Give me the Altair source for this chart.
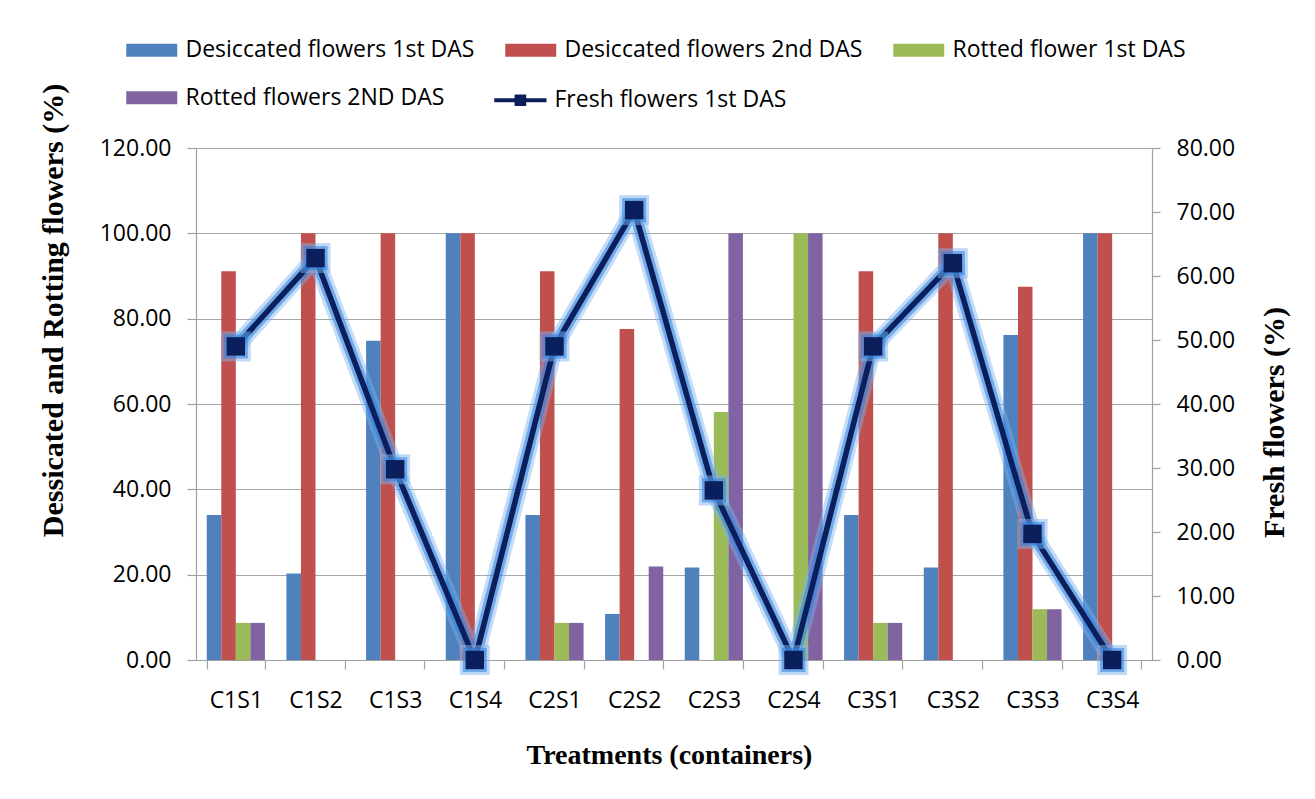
import altair as alt
import pandas as pd

treatments = ["C1S1", "C1S2", "C1S3", "C1S4", "C2S1", "C2S2",
              "C2S3", "C2S4", "C3S1", "C3S2", "C3S3", "C3S4"]

desiccated_1st = [34.0, 20.3, 74.8, 100.0, 34.0, 10.8, 21.7, 0.0, 34.0, 21.7, 76.2, 100.0]
desiccated_2nd = [91.1, 100.0, 100.0, 100.0, 91.1, 77.6, 0.0, 0.0, 91.1, 100.0, 87.5, 100.0]
rotted_1st = [8.7, 0.0, 0.0, 0.0, 8.7, 0.0, 58.1, 100.0, 8.7, 0.0, 11.9, 0.0]
rotted_2nd = [8.7, 0.0, 0.0, 0.0, 8.7, 21.9, 100.0, 100.0, 8.7, 0.0, 11.9, 0.0]
fresh_1st = [49.0, 62.8, 29.8, 0.0, 49.0, 70.3, 26.5, 0.0, 49.0, 62.0, 19.7, 0.0]

series_names = ["Desiccated flowers 1st DAS", "Desiccated flowers 2nd DAS",
                "Rotted flower 1st DAS", "Rotted flowers 2ND DAS"]
series_colors = ["#4F81BD", "#C0504D", "#9BBB59", "#8064A2"]
# order in which the legend grid receives the entries (so rows read D1 D2 R1 / R2)
legend_order = [0, 2, 1, 3]
line_name = "Fresh flowers 1st DAS"
navy = "#0A1F5C"

left_ticks = [0, 20, 40, 60, 80, 100, 120]
right_ticks = [0, 10, 20, 30, 40, 50, 60, 70, 80]

rows = []
for name, vals in zip(series_names, [desiccated_1st, desiccated_2nd, rotted_1st, rotted_2nd]):
    for t, v in zip(treatments, vals):
        rows.append({"treatment": t, "series": name, "value": v})
bars_df = pd.DataFrame(rows)
line_df = pd.DataFrame({"treatment": treatments, "fresh": fresh_1st,
                        "line": [line_name] * len(treatments)})

x_enc = alt.X(
    "treatment:N",
    sort=treatments,
    scale=alt.Scale(domain=treatments, paddingInner=0.27, paddingOuter=0.135),
    axis=alt.Axis(
        title="Treatments (containers)",
        tickBand="extent", tickSize=9, labelPadding=20, labelAngle=0,
        titleX=473, titleY=103, titleBaseline="alphabetic", titleAlign="center",
    ),
)

y_left = alt.Y(
    "value:Q",
    scale=alt.Scale(domain=[0, 120], nice=False),
    axis=alt.Axis(
        title="Dessicated and Rotting flowers (%)",
        values=left_ticks, format=".2f", tickSize=9, labelPadding=16,
        grid=True, titleFontSize=30, titleAngle=270,
        titleX=-134, titleY=162, titleAlign="center", titleBaseline="alphabetic",
    ),
)

y_right = alt.Y(
    "fresh:Q",
    scale=alt.Scale(domain=[0, 80], nice=False),
    axis=alt.Axis(
        title="Fresh flowers (%)", orient="right",
        values=right_ticks, format=".2f", tickSize=8, labelPadding=16,
        grid=False, titleAngle=270, titleFontSize=30,
        titleX=131, titleY=274, titleAlign="center", titleBaseline="alphabetic",
    ),
)

bars = alt.Chart(bars_df).mark_bar().encode(
    x=x_enc,
    xOffset=alt.XOffset("series:N", sort=series_names,
                        scale=alt.Scale(paddingInner=0, paddingOuter=0)),
    y=y_left,
    color=alt.Color(
        "series:N",
        scale=alt.Scale(domain=[series_names[i] for i in legend_order],
                        range=[series_colors[i] for i in legend_order]),
        legend=alt.Legend(
            title=None, orient="none", legendX=-70, legendY=-110.75,
            columns=3, columnPadding=30, rowPadding=22.5,
            symbolType="M-1,-0.51L3,-0.51L3,0.51L-1,0.51Z", symbolSize=650,
            symbolStrokeWidth=0, labelOffset=33.5, labelLimit=0, padding=0,
        ),
    ),
)

base = alt.Chart(line_df).encode(x=x_enc, y=y_right)

glow_outer = base.mark_line(color="#7FB3EE", strokeWidth=18, opacity=0.45, strokeJoin="round", strokeCap="round")
glow_inner = base.mark_line(color="#2E7FE0", strokeWidth=11.5, opacity=0.55, strokeJoin="round", strokeCap="round")
main_line = base.mark_line(strokeWidth=5.5, strokeJoin="miter").encode(
    stroke=alt.Stroke(
        "line:N",
        scale=alt.Scale(domain=[line_name], range=[navy]),
        legend=alt.Legend(
            title=None, orient="none", legendX=296, legendY=-62.75,
            symbolType="M-1,0L3.1,0M0.75,-0.3L1.35,-0.3L1.35,0.3L0.75,0.3Z",
            symbolSize=650, symbolStrokeWidth=4, symbolFillColor=navy,
            labelOffset=32.5, labelLimit=0, padding=0,
        ),
    )
)
sq_glow_outer = base.mark_point(shape="square", filled=True, size=900, color="#7FB3EE", opacity=0.5)
sq_glow_inner = base.mark_point(shape="square", filled=True, size=580, color="#2E7FE0", opacity=0.55)
squares = base.mark_point(shape="square", filled=True, size=340, color=navy, opacity=1)

line_layers = alt.layer(glow_outer, glow_inner, main_line, sq_glow_outer, sq_glow_inner, squares)

chart = alt.layer(bars, line_layers).resolve_scale(
    y="independent"
).properties(
    width=956, height=512,
    autosize=alt.AutoSizeParams(type="none"),
    padding={"left": 188, "top": 140, "right": 150, "bottom": 130},
    background="white",
).configure_view(
    stroke="transparent"
).configure_axis(
    labelFont="Open Sans", labelFontSize=23, labelColor="black",
    titleFont="Liberation Serif", titleFontWeight="bold", titleFontSize=28,
    titleColor="black",
    domainColor="#A0A0A0", tickColor="#A0A0A0", gridColor="#A6A6A6",
    domainWidth=1.2, tickWidth=1.2, gridWidth=1.2,
).configure_legend(
    labelFont="Open Sans", labelFontSize=23, labelColor="black",
)

chart.save("out.html", embed_options={"renderer": "svg", "actions": False})
